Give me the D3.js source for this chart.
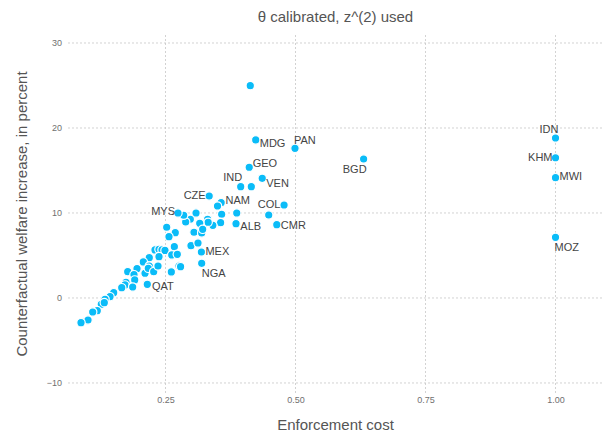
<!DOCTYPE html>
<html>
<head>
<meta charset="utf-8">
<script src="https://cdn.jsdelivr.net/npm/d3@7"></script>
<style>
  body { margin: 0; background: #fff; }
  svg { display: block; font-family: "Liberation Sans", Arial, sans-serif; }
</style>
</head>
<body>
<div id="chart"></div>
<script>
// country codes ('' = unlabelled point)
const countryCode = [
  '', 'MDG', 'PAN', 'BGD', 'GEO', 'IND', '', 'VEN', 'CZE', 'NAM',
  '', 'COL', '', 'CMR', 'ALB', '', '', '', '', '',
  '', '', '', '', '', '', 'MYS', '', '', '',
  '', '', 'MEX', 'NGA', '', '', '', '', '', '',
  '', '', '', '', '', '', '', '', '', '',
  '', '', '', '', '', '', '', '', '', '',
  '', '', '', '', 'QAT', '', '', '', '', '',
  '', '', '', '', '', 'IDN', 'KHM', 'MWI', 'MOZ'
];
const enforcementCost = [
  0.413, 0.4235, 0.499, 0.631, 0.411, 0.3946, 0.415, 0.436, 0.334, 0.357,
  0.350, 0.478, 0.4485, 0.464, 0.3856, 0.387, 0.358, 0.356, 0.341, 0.331,
  0.332, 0.3087, 0.3158, 0.2977, 0.2888, 0.285, 0.274, 0.3048, 0.3196, 0.3215,
  0.299, 0.3125, 0.319, 0.3196, 0.2523, 0.2688, 0.2567, 0.2298, 0.2375, 0.2433,
  0.249, 0.267, 0.262, 0.2727, 0.2375, 0.2188, 0.2073, 0.1952, 0.2106, 0.2188,
  0.2169, 0.2273, 0.2356, 0.2612, 0.276, 0.279, 0.1773, 0.1894, 0.1908, 0.174,
  0.1688, 0.1721, 0.1869, 0.1658, 0.215, 0.1504, 0.1433, 0.1337, 0.1265, 0.1323,
  0.1188, 0.110, 0.0985, 0.101, 0.0875, 1.0, 1.0, 1.0, 1.0
];
const welfareGain = [
  24.98, 18.59, 17.61, 16.35, 15.38, 13.09, 13.09, 14.08, 12.0, 11.21,
  10.82, 10.94, 9.76, 8.62, 8.74, 10.0, 9.85, 8.86, 8.55, 9.26,
  8.91, 10.0, 8.79, 9.26, 8.94, 9.73, 10.0, 7.73, 7.65, 8.08,
  6.15, 6.47, 5.41, 4.08, 8.32, 7.68, 7.21, 5.65, 5.73, 5.65,
  5.59, 6.04, 5.06, 5.14, 4.86, 4.74, 4.24, 3.45, 2.91, 3.76,
  3.49, 3.09, 3.76, 3.06, 3.76, 3.68, 3.09, 2.74, 2.12, 1.85,
  1.41, 1.53, 1.29, 1.21, 1.61, 0.62, 0.15, -0.15, -0.74, -0.55,
  -1.49, -1.65, -2.67, -2.59, -2.91, 18.82, 16.5, 14.15, 7.14
];
const xTicks = [0.25, 0.5, 0.75, 1.0];
const yTicks = [-10, 0, 10, 20, 30];

// label placement: [text-anchor, dx, dy(baseline)]
const labelPlace = {
  MDG: ['start', 4, 7], PAN: ['start', -1, -4.5], BGD: ['end', 3, 13.5],
  GEO: ['start', 3.5, 0], IND: ['end', 1.5, -5.3], VEN: ['start', 4, 8.7],
  CZE: ['end', -3.5, 3.3], NAM: ['start', 4.3, 1.7], COL: ['end', -3.7, 3],
  CMR: ['start', 4, 4], ALB: ['start', 4.3, 6.3], MEX: ['start', 4, 3],
  MYS: ['end', -3, 2], NGA: ['start', 0, 14], QAT: ['start', 4.7, 5.7],
  IDN: ['end', 3, -5], KHM: ['end', -3, 3], MWI: ['start', 4, 2.5], MOZ: ['start', -1, 14]
};

const W = 607, H = 436;
const panel = { left: 68, right: 603, top: 35, bottom: 393 };

const x = d3.scaleLinear().domain([0.0625, 1.0913]).range([panel.left, panel.right]);
const y = d3.scaleLinear().domain([-11.18, 30.94]).range([panel.bottom, panel.top]);

const svg = d3.select('#chart').append('svg').attr('width', W).attr('height', H);

// grid
const grid = svg.append('g').attr('stroke', '#c6c6c6').attr('stroke-width', 0.8).attr('stroke-dasharray', '2,2');
grid.selectAll('.gx').data(xTicks).join('line')
  .attr('x1', d => x(d)).attr('x2', d => x(d))
  .attr('y1', panel.top).attr('y2', panel.bottom);
grid.selectAll('.gy').data(yTicks).join('line')
  .attr('x1', panel.left).attr('x2', panel.right)
  .attr('y1', d => y(d)).attr('y2', d => y(d));

// axes
const xAxis = svg.append('g').attr('transform', `translate(0,${panel.bottom})`)
  .call(d3.axisBottom(x).tickValues(xTicks).tickFormat(d3.format('.2f')).tickSize(0).tickPadding(4));
const yAxis = svg.append('g').attr('transform', `translate(${panel.left - 1},0)`)
  .call(d3.axisLeft(y).tickValues(yTicks).tickFormat(d3.format('d')).tickSize(0).tickPadding(5));
[xAxis, yAxis].forEach(a => {
  a.select('.domain').remove();
  a.selectAll('text').attr('fill', '#707070').attr('font-size', '9px')
    .attr('font-family', '"Liberation Sans", Arial, sans-serif');
});

// points
const pts = countryCode.map((c, i) => ({ code: c, cost: enforcementCost[i], gain: welfareGain[i] }));
svg.append('g').selectAll('circle')
  .data(pts).join('circle')
  .attr('cx', d => x(d.cost)).attr('cy', d => y(d.gain))
  .attr('r', 4.2)
  .attr('fill', '#0abcf8')
  .attr('stroke', '#fff').attr('stroke-width', 1.2);

// point labels
svg.append('g').selectAll('text')
  .data(pts.filter(d => d.code)).join('text')
  .attr('x', d => x(d.cost) + labelPlace[d.code][1])
  .attr('y', d => y(d.gain) + labelPlace[d.code][2])
  .attr('text-anchor', d => labelPlace[d.code][0])
  .attr('font-size', '11px').attr('fill', '#444')
  .text(d => d.code);

// titles
const midX = (panel.left + panel.right) / 2;
svg.append('text').attr('x', midX).attr('y', 22).attr('text-anchor', 'middle')
  .attr('font-size', '15px').attr('fill', '#555').text('θ calibrated, z^(2) used');
svg.append('text').attr('x', midX).attr('y', 430).attr('text-anchor', 'middle')
  .attr('font-size', '15px').attr('fill', '#555').text('Enforcement cost');
svg.append('text').attr('transform', `translate(27,${(panel.top + panel.bottom) / 2}) rotate(-90)`)
  .attr('text-anchor', 'middle')
  .attr('font-size', '15px').attr('fill', '#555').text('Counterfactual welfare increase, in percent');
</script>
</body>
</html>
